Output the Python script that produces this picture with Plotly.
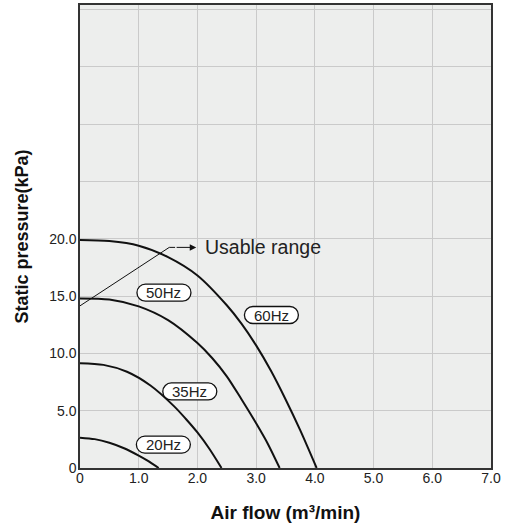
import plotly.graph_objects as go

# ---- data ----
x60 = [0, 0.5, 1.0, 1.5, 2.0, 2.5, 2.75, 3.0, 3.25, 3.5, 3.75, 4.03]
y60 = [19.9, 19.8, 19.4, 18.4, 16.8, 14.2, 12.6, 10.7, 8.5, 6.0, 3.3, 0]

x50 = [0, 0.5, 1.0, 1.5, 2.0, 2.25, 2.5, 2.75, 3.0, 3.2, 3.4]
y50 = [14.8, 14.7, 14.1, 12.9, 10.9, 9.6, 8.0, 6.0, 3.9, 2.1, 0]

x35 = [0, 0.4, 0.8, 1.2, 1.6, 1.8, 2.0, 2.2, 2.41]
y35 = [9.15, 9.0, 8.4, 7.2, 5.4, 4.3, 3.1, 1.7, 0]

x20 = [0, 0.25, 0.5, 0.75, 1.0, 1.15, 1.34]
y20 = [2.65, 2.52, 2.2, 1.72, 1.08, 0.64, 0]

series_names = ["60Hz", "50Hz", "35Hz", "20Hz"]
label_x = [3.26, 1.43, 1.87, 1.42]
label_y = [13.35, 15.3, 6.68, 2.04]

usable_x = [0, 1.52, 1.62]
usable_y = [14.15, 19.25, 19.25]
usable_arrow_end = (1.98, 19.25)
usable_text = "Usable range"

x_tickvals = [0, 1, 2, 3, 4, 5, 6, 7]
x_ticktext = ["0", "1.0", "2.0", "3.0", "4.0", "5.0", "6.0", "7.0"]
y_tickvals = [0, 5, 10, 15, 20, 25, 30, 35, 40]
y_ticktext = ["0", "5.0", "10.0", "15.0", "20.0", "", "", "", ""]

FONT = "Liberation Sans, Arial, sans-serif"

fig = go.Figure()
for xs, ys in [(x60, y60), (x50, y50), (x35, y35), (x20, y20)]:
    fig.add_trace(go.Scatter(x=xs, y=ys, mode="lines",
                             line=dict(color="#111111", width=2, shape="spline", smoothing=0.8),
                             hoverinfo="skip", showlegend=False))

fig.add_trace(go.Scatter(x=usable_x, y=usable_y, mode="lines",
                         line=dict(color="#111111", width=1),
                         hoverinfo="skip", showlegend=False))


def pill(w, h):
    r = h / 2.0
    k = 0.5523 * r
    a = w / 2.0 - r
    return (f"M {-a},{-r} L {a},{-r} "
            f"C {a + k},{-r} {a + r},{-k} {a + r},0 "
            f"C {a + r},{k} {a + k},{r} {a},{r} "
            f"L {-a},{r} "
            f"C {-a - k},{r} {-a - r},{k} {-a - r},0 "
            f"C {-a - r},{-k} {-a - k},{-r} {-a},{-r} Z")


for name, lx, ly in zip(series_names, label_x, label_y):
    fig.add_shape(type="path", xsizemode="pixel", ysizemode="pixel",
                  xanchor=lx, yanchor=ly, xref="x", yref="y",
                  path=pill(54, 17), line=dict(color="#111111", width=1.3),
                  fillcolor="white", layer="above")
    fig.add_annotation(x=lx, y=ly, text=name, showarrow=False,
                       font=dict(family=FONT, size=15, color="#222222"))

fig.add_annotation(x=usable_arrow_end[0], y=usable_arrow_end[1],
                   ax=usable_x[-1], ay=usable_y[-1], axref="x", ayref="y",
                   xref="x", yref="y", text="", showarrow=True,
                   arrowhead=2, arrowsize=1.3, arrowwidth=1, arrowcolor="#111111")
fig.add_annotation(x=2.09, y=usable_y[-1], text=usable_text, showarrow=False,
                   xanchor="left", yanchor="middle",
                   font=dict(family=FONT, size=19.5, color="#222222"))

fig.update_layout(
    width=510, height=529,
    margin=dict(l=80, r=19, t=5, b=61, autoexpand=False),
    paper_bgcolor="white", plot_bgcolor="#EDEEED",
    font=dict(family=FONT, color="#222222"),
    showlegend=False,
)
fig.update_xaxes(range=[0, 7], tickvals=x_tickvals, ticktext=x_ticktext,
                 showgrid=True, gridcolor="#CACACA", gridwidth=1,
                 showline=True, linecolor="#333333", linewidth=1.5, mirror=True,
                 ticks="", zeroline=False, ticklabelstandoff=-4, automargin=False,
                 tickfont=dict(family=FONT, size=14, color="#222222"),
                 title=dict(text="<b>Air flow (m³/min)</b>", standoff=21,
                            font=dict(family=FONT, size=19, color="#111111")))
fig.update_yaxes(range=[0, 40.4], tickvals=y_tickvals, ticktext=y_ticktext,
                 showgrid=True, gridcolor="#CACACA", gridwidth=1,
                 showline=True, linecolor="#333333", linewidth=1.5, mirror=True,
                 ticks="", zeroline=False, ticklabelstandoff=-1, automargin=False,
                 tickfont=dict(family=FONT, size=14, color="#222222"),
                 title=dict(text="<b>Static pressure(kPa)</b>", standoff=16,
                            font=dict(family=FONT, size=18, color="#111111")))

fig.write_html("out.html", config={"displayModeBar": False},
               post_script="document.body.style.margin='0';document.body.style.padding='0';")
